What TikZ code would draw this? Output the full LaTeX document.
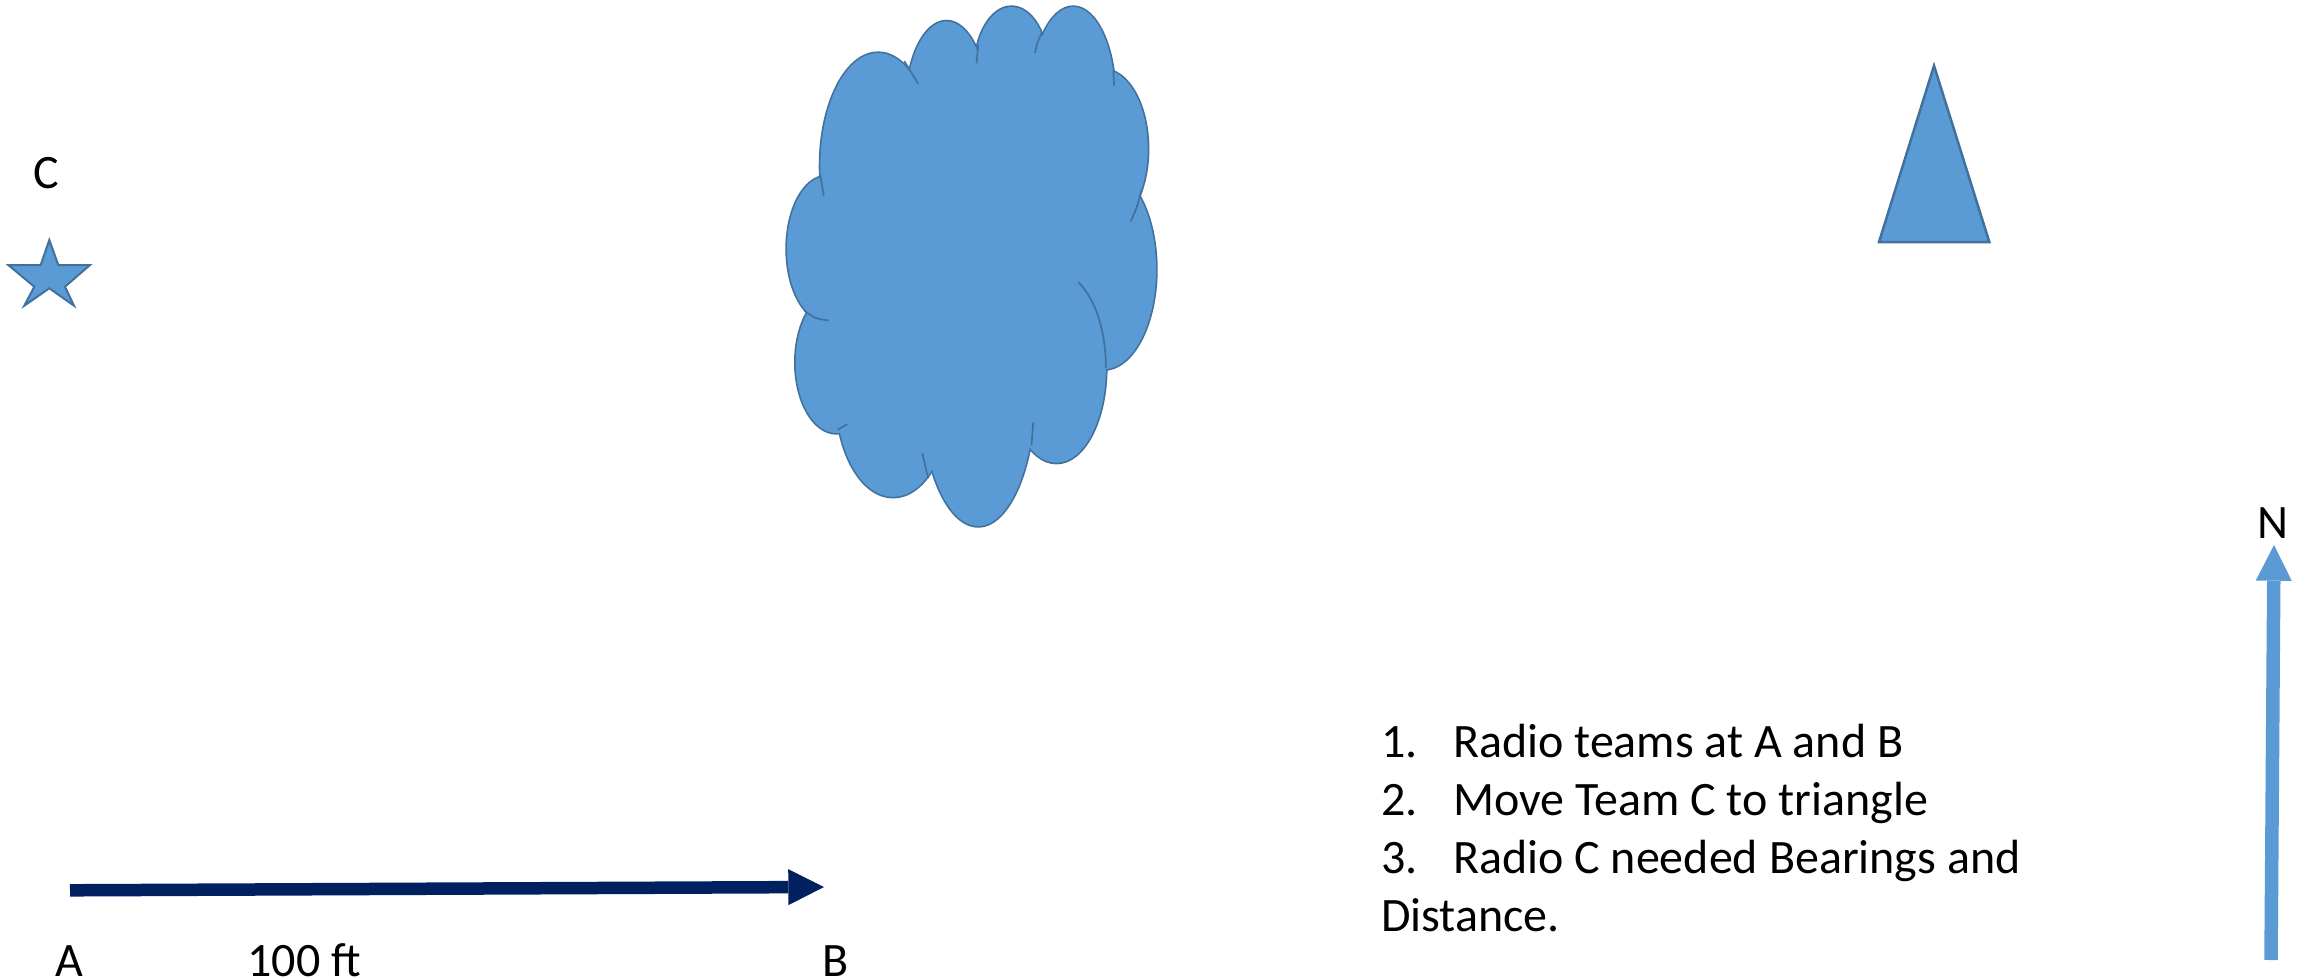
\documentclass[tikz,border=0pt]{standalone}
\usepackage{fontspec}
\setmainfont{Carlito}
\usetikzlibrary{arrows.meta}
\definecolor{shapefill}{HTML}{5B9BD5}
\definecolor{shapeline}{HTML}{41719C}
\definecolor{navyblue}{HTML}{002060}
\tikzset{
  lbl/.style={inner sep=0pt, outer sep=0pt, text=black},
  shapestyle/.style={fill=shapefill, draw=shapeline, line join=miter},
  cloudedge/.style={draw=shapeline, line width=3.4pt},
  cloudhook/.style={draw=shapeline, line width=1.7pt, line cap=round},
  scalearrow/.style={draw=navyblue, line width=12.5pt,
    -{Triangle[length=35.7pt,width=36pt,line width=0pt]}},
  northarrow/.style={draw=shapefill, line width=13.5pt,
    -{Triangle[length=35.7pt,width=36pt,line width=0pt]}},
}
\begin{document}
\begin{tikzpicture}[x=1pt, y=-1pt, font=\fontsize{48}{58}\selectfont]
\useasboundingbox (0,0) rectangle (2312,979);

% star
\draw[shapestyle, line width=2pt] (49.3,240) -- (58.3,265) -- (90,265) -- (65,286.7) -- (74,305.7)
  -- (49.3,288.3) -- (24.3,305.7) -- (34.3,286.7) -- (8.3,265) -- (40.7,265) -- cycle;
\node[lbl, anchor=base] (labelC) at (46.5,188.3) {C};

% triangle
\draw[shapestyle, line width=2.5pt] (1934,65.7) -- (1989.3,242) -- (1879,242) -- cycle;

% cloud
\def\lobes{878.1/166.1/57.7/113.0, 946.5/104.1/40.0/82.7, 1011.5/69.7/36.7/62.7,
  1073.2/97.2/41.7/90.2, 1103.3/148.9/44.4/79.2, 1103.3/269.4/52.7/99.9,
  1056.5/367.6/49.4/95.1, 978.2/390/56.7/136.0, 893.1/396.9/56.7/99.9,
  836.4/362.4/40.7/70.6, 826.4/248.8/39.4/72.3}
\foreach \cx/\cy/\rx/\ry in \lobes {
  \draw[cloudedge] (\cx,\cy) ellipse [x radius=\rx pt, y radius=\ry pt];
}
\foreach \cx/\cy/\rx/\ry in \lobes {
  \fill[shapefill] (\cx,\cy) ellipse [x radius=\rx pt, y radius=\ry pt];
}
\fill[shapefill] (969.8,264.3) ellipse [x radius=150pt, y radius=165pt];
% inner hooks of the cloud
\draw[cloudhook] (820.4,176) -- (823.7,195.4);
\draw[cloudhook] (904.5,61.5) .. controls (912,72) .. (918.1,83.5);
\draw[cloudhook] (976.5,62.8) .. controls (976.8,54) .. (978.2,45.6);
\draw[cloudhook] (1034.9,52.5) .. controls (1037.5,42) .. (1041.5,33.5);
\draw[cloudhook] (1113.3,70) -- (1114,85.2);
\draw[cloudhook] (1130.9,221.2) .. controls (1137,207) .. (1141.6,190.2);
\draw[cloudhook] (1078.5,282.4) .. controls (1095.3,298.5) and (1105.9,331.5) .. (1105.9,367.6);
\draw[cloudhook] (1033.2,422.7) -- (1031.5,445.1);
\draw[cloudhook] (922.4,453.7) .. controls (924.5,466) .. (928.1,477.8);
\draw[cloudhook] (838,429.6) -- (847,424.4);
\draw[cloudhook] (804.7,310.8) .. controls (815,318.5) .. (828,320.4);

% scale arrow A -> B
\coordinate (abStart) at (70,890.3);
\coordinate (abEnd) at (824,887);
\draw[scalearrow] (abStart) -- (abEnd);
\node[lbl, anchor=base] (labelA) at (69.2,976) {A};
\node[lbl, anchor=base west] (labelDist) at (247.5,976) {100 ft};
\node[lbl, anchor=base] (labelB) at (836,976) {B};

% north arrow
\coordinate (nStart) at (2271,960);
\coordinate (nEnd) at (2274,545);
\draw[northarrow] (nStart) -- (nEnd);
\node[lbl, anchor=base] (labelN) at (2273,538.3) {N};

% list
\node[lbl, anchor=base west] (n1) at (1381,757) {1.};
\node[lbl, anchor=base west] (t1) at (1453,757) {Radio teams at A and B};
\node[lbl, anchor=base west] (n2) at (1381,815.5) {2.};
\node[lbl, anchor=base west] (t2) at (1453,815.5) {Move Team C to triangle};
\node[lbl, anchor=base west] (n3) at (1381,873.5) {3.};
\node[lbl, anchor=base west] (t3) at (1453,873.5) {Radio C needed Bearings and};
\node[lbl, anchor=base west] (t4) at (1381,931.5) {Distance.};
\end{tikzpicture}
\end{document}
